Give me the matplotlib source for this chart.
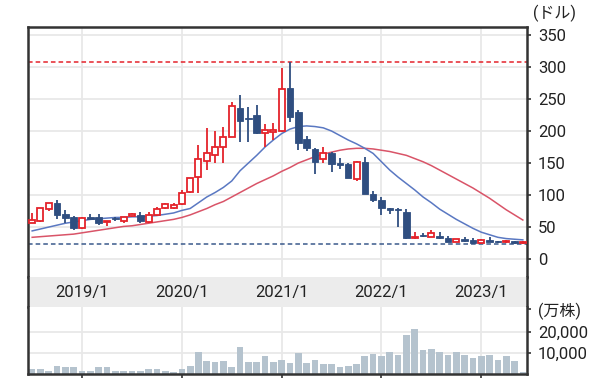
import matplotlib
matplotlib.use("Agg")
import matplotlib.pyplot as plt
import numpy as np

plt.rcParams['font.family'] = ['Roboto', 'Noto Sans CJK JP', 'DejaVu Sans']

# 月足 2018/7 - 2023/6
opens = [57, 59, 78, 88, 70, 65, 48, 65, 66, 58, 63, 59, 67, 69, 58, 69, 79, 80, 86, 104,
         128, 153, 162, 175, 191, 236, 221, 225, 197, 199, 200, 267, 229, 188, 172, 156, 166, 150, 148, 125,
         152, 102, 93, 79, 77, 74, 33, 37, 35, 36, 33, 27, 31, 30, 25, 30, 27, 26, 28, 25]
highs = [72, 80, 88, 92, 76, 68, 65, 71, 70, 60, 65, 66, 72, 74, 73, 81, 88, 87, 108, 127,
         178, 205, 200, 206, 245, 256, 238, 240, 211, 213, 298, 308, 233, 192, 173, 175, 168, 158, 150, 153,
         160, 106, 97, 80, 80, 78, 42, 40, 46, 42, 36, 32, 35, 33, 31, 34, 28, 30, 29, 28]
lows = [56, 58, 75, 62, 57, 45, 47, 62, 53, 52, 59, 56, 66, 56, 57, 67, 78, 78, 85, 103,
        103, 139, 150, 150, 190, 183, 183, 196, 175, 186, 199, 214, 170, 169, 133, 150, 136, 141, 126, 122,
        101, 89, 69, 70, 50, 32, 31, 34, 34, 32, 26, 26, 27, 24, 24, 26, 25, 25, 23, 24]
closes = [61, 80, 87, 69, 64, 49, 64, 63, 57, 59, 62, 66, 70, 60, 69, 78, 86, 85, 103, 126,
          156, 166, 175, 191, 239, 216, 219, 197, 202, 201, 266, 222, 181, 173, 152, 166, 148, 147, 127, 152,
          102, 93, 79, 77, 76, 33, 35, 36, 40, 33, 27, 31, 28, 25, 30, 27, 26, 27, 25, 27]
ma_short = [44, 47, 50, 53, 56, 58, 60, 62, 63, 64, 65, 65, 66, 66, 67, 68, 70, 72, 76, 79,
            88, 97, 104, 112, 122, 138, 150, 162, 175, 186, 196, 203, 207, 208, 207, 205, 200, 193, 186, 180,
            173, 165, 152, 139, 128, 118, 108, 97, 88, 78, 70, 62, 55, 48, 42, 38, 34, 32, 31, 30]
ma_long = [34, 35, 36, 37, 38, 39, 41, 43, 45, 47, 49, 51, 52, 54, 56, 58, 60, 62, 65, 69,
           74, 79, 85, 90, 97, 104, 111, 118, 124, 130, 137, 143, 150, 155, 160, 164, 167, 170, 172, 173,
           173, 172, 170, 168, 165, 162, 157, 152, 146, 139, 132, 125, 118, 111, 103, 95, 86, 77, 69, 61]
volume = [2400, 2400, 1600, 4000, 3200, 3200, 1600, 1600, 3200, 3200,
          1600, 1600, 1600, 1600, 2400, 2400, 1600, 800, 2400, 4000,
          10300, 6300, 5600, 6300, 3200, 12700, 5600, 5600, 8400, 5600,
          6800, 5200, 9800, 5200, 6800, 4800, 4800, 3200, 4000, 4800,
          8300, 9200, 8300, 10300, 9000, 18300, 21100, 11100, 11900, 10300,
          9000, 10300, 9000, 7500, 8300, 9000, 6800, 8300, 6000, 1100]

year_pos = [6, 18, 30, 42, 54]
year_labels = ['2019/1', '2020/1', '2021/1', '2022/1', '2023/1']
price_ticks = [0, 50, 100, 150, 200, 250, 300, 350]

RED = '#e4232b'
NAVY = '#2f4e80'
GRID = '#e8e8e8'
SPINE = '#333333'

x = np.arange(len(opens))
o = np.array(opens); c = np.array(closes)
up = c >= o

fig = plt.figure(figsize=(6, 3.88), dpi=100)
L, W = 28 / 600, 499 / 600
ax = fig.add_axes([L, 1 - 277 / 388, W, 250 / 388])
band = fig.add_axes([L, 1 - 307 / 388, W, 30 / 388])
axv = fig.add_axes([L, 1 - 374 / 388, W, 67 / 388])

for a in (ax, band, axv):
    a.set_xlim(-0.5, 59.5)
    for s in a.spines.values():
        s.set_color(SPINE)
        s.set_linewidth(1.8)

# price panel
ax.set_ylim(-28, 362.5)
for yv in price_ticks:
    ax.axhline(yv, color=GRID, lw=1.3, zorder=0)
for xv in year_pos:
    ax.axvline(xv, color=GRID, lw=1.3, zorder=0)
ax.axhline(max(highs), color=RED, lw=1.1, ls=(0, (3, 2)), zorder=1)
ax.axhline(min(lows), color='#3b5a8c', lw=1.1, ls=(0, (3, 2)), zorder=1)

ax.plot(x, ma_long, color='#d95468', lw=1.1, zorder=2)
ax.plot(x, ma_short, color='#5a78c2', lw=1.1, zorder=2)

wick_col = [RED if u else NAVY for u in up]
ax.vlines(x, lows, highs, colors=wick_col, lw=1.3, zorder=3)
body_h = np.maximum(np.abs(c - o), 1.5)
body_b = np.minimum(o, c)
ax.bar(x[up], body_h[up], bottom=body_b[up], width=0.72, facecolor='white',
       edgecolor=RED, linewidth=1.3, zorder=4)
ax.bar(x[~up], body_h[~up], bottom=body_b[~up], width=0.78, facecolor=NAVY,
       edgecolor=NAVY, linewidth=0.6, zorder=4)

ax.yaxis.tick_right()
ax.set_yticks(price_ticks)
ax.set_yticklabels([str(v) for v in price_ticks], fontsize=12)
ax.tick_params(axis='y', length=3, width=1.2, color=SPINE, pad=5, labelcolor='#222222')
ax.set_xticks([])
ax.spines['bottom'].set_visible(False)
ax.text(1.012, 1.056, '(ドル)', transform=ax.transAxes, fontsize=11.5, color='#222222',
        ha='left', va='center')

# date band
band.set_facecolor('#ececec')
band.set_ylim(0, 1)
band.set_xticks([]); band.set_yticks([])
band.spines['top'].set_visible(False)
band.spines['bottom'].set_visible(False)
for xv, lab in zip(year_pos, year_labels):
    band.text(xv, 0.47, lab, ha='center', va='center', fontsize=12, color='#222222')

# volume panel
axv.set_ylim(0, 31600)
for yv in (10000, 20000):
    axv.axhline(yv, color=GRID, lw=1.3, zorder=0)
for xv in year_pos:
    axv.axvline(xv, color=GRID, lw=1.3, zorder=0)
axv.bar(x, volume, width=0.8, color='#b5c3ce', zorder=2)
axv.spines['top'].set_visible(False)
axv.yaxis.tick_right()
axv.set_yticks([10000, 20000, 30600])
axv.set_yticklabels(['10,000', '20,000', '(万株)'], fontsize=12)
axv.get_yticklabels()[2].set_fontsize(11.5)
axv.tick_params(axis='y', length=3, width=1.2, color=SPINE, pad=5, labelcolor='#222222')
axv.set_xticks(year_pos)
axv.set_xticklabels([])
axv.tick_params(axis='x', length=3, width=1.2, color=SPINE)

fig.savefig('out.png', dpi=100)
